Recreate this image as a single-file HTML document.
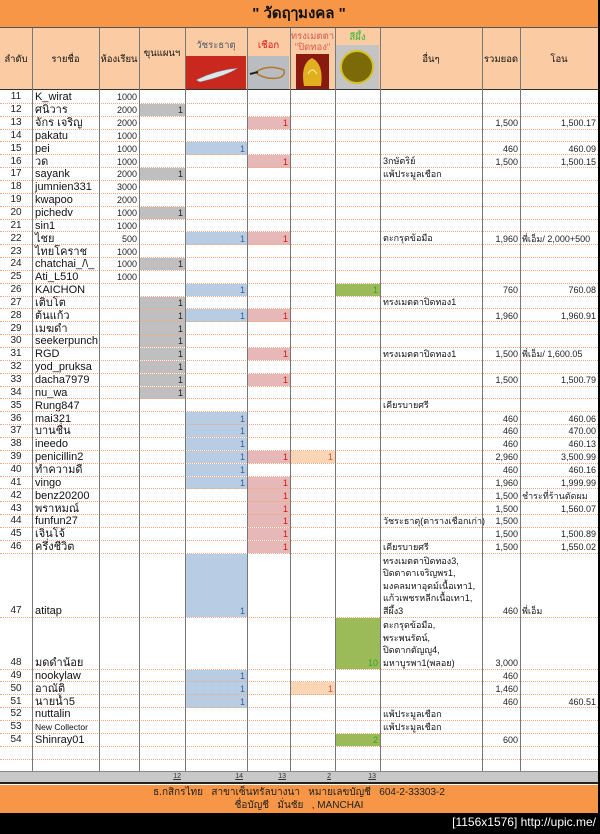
<!DOCTYPE html>
<html><head><meta charset="utf-8">
<style>
body{margin:0;width:600px;height:834px;overflow:hidden;background:#000;font-family:"Liberation Sans","DejaVu Sans",sans-serif;}
#sheet{position:absolute;left:0;top:0;width:598px;height:813px;background:#fff;}
.a{position:absolute;box-sizing:border-box;white-space:nowrap;overflow:visible;}
</style></head><body>
<div id="sheet">
<div class="a" style="left:0;top:0;width:598px;height:28px;background:#F79646;border-bottom:1px solid #555;text-align:center;font-size:15px;font-weight:bold;line-height:28px;color:#111;">" วัดฤๅมงคล "</div>
<div class="a" style="left:0;top:28px;width:598px;height:62px;background:#FBCBA4;border-bottom:1px solid #333;"></div>
<div class="a" style="left:0;top:785px;width:598px;height:28px;background:#F79646;text-align:center;font-size:10px;line-height:13px;color:#222;padding-top:1px;">ธ.กสิกรไทย &nbsp; สาขาเซ็นทรัลบางนา &nbsp; หมายเลขบัญชี &nbsp; 604-2-33303-2<br>ชื่อบัญชี &nbsp; มั่นชัย &nbsp; , MANCHAI</div>
</div>
<div class="a" style="right:4px;top:815px;color:#fff;font-size:12px;">[1156x1576] http://upic.me/</div>
<script>
const seq=[11,12,13,14,15,16,17,18,19,20,21,22,23,24,25,26,27,28,29,30,31,32,33,34,35,36,37,38,39,40,41,42,43,44,45,46,47,48,49,50,51,52,53,54];
const names=["K_wirat","ศนิวาร","จักร  เจริญ","pakatu","pei","วด","sayank","jumnien331","kwapoo","pichedv","sin1","ไชย","ไทยโคราช","chatchai_/\\_","Ati_L510","KAICHON","เติบโต","ต้นแก้ว","เมฆดำ","seekerpunch","RGD","yod_pruksa","dacha7979","nu_wa","Rung847","mai321","บานชื่น","ineedo","penicillin2","ทำความดี","vingo","benz20200","พราหมณ์","funfun27","เจินโจ้","ครึ่งชีวิต","atitap","มดดำน้อย","nookylaw","อาณัติ","นายน้ำ5","nuttalin","New Collector","Shinray01"];
const rooms=["1000","2000","2000","1000","1000","1000","2000","3000","2000","1000","1000","500","1000","1000","1000","","","","","","","","","","","","","","","","","","","","","","","","","","","","",""];
const khun=[0,1,0,0,0,0,1,0,0,1,0,0,0,1,0,0,1,1,1,1,1,1,1,1,0,0,0,0,0,0,0,0,0,0,0,0,0,0,0,0,0,0,0,0];
const wat=[0,0,0,0,1,0,0,0,0,0,0,1,0,0,0,1,0,1,0,0,0,0,0,0,0,1,1,1,1,1,1,0,0,0,0,0,1,0,1,1,1,0,0,0];
const chuak=[0,0,1,0,0,1,0,0,0,0,0,1,0,0,0,0,0,1,0,0,1,0,1,0,0,0,0,0,1,0,1,1,1,1,1,1,0,0,0,0,0,0,0,0];
const song=[0,0,0,0,0,0,0,0,0,0,0,0,0,0,0,0,0,0,0,0,0,0,0,0,0,0,0,0,1,0,0,0,0,0,0,0,0,0,0,1,0,0,0,0];
const sipung=[0,0,0,0,0,0,0,0,0,0,0,0,0,0,0,1,0,0,0,0,0,0,0,0,0,0,0,0,0,0,0,0,0,0,0,0,0,10,0,0,0,0,0,2];
const others=["","","","","","3กษัตริย์","แพ้ประมูลเชือก","","","","","ตะกรุดข้อมือ","","","","","ทรงเมตตาปิดทอง1","","","","ทรงเมตตาปิดทอง1","","","","เคียรบายศรี","","","","","","","","","วัชระธาตุ(ตารางเชือกเก่า)","","เคียรบายศรี","ทรงเมตตาปิดทอง3,<br>ปิดตาตาเจริญพร1,<br>มงคลมหาอุดม์เนื้อเทา1,<br>แก้วเพชรหลีกเนื้อเทา1,<br>สีผึ้ง3","ตะกรุดข้อมือ,<br>พระพนรัตน์,<br>ปิดตากตัญญู4,<br>มหาบูรพา1(พลอย)","","","","แพ้ประมูลเชือก","แพ้ประมูลเชือก",""];
const totals=["","","1,500","","460","1,500","","","","","","1,960","","","","760","","1,960","","","1,500","","1,500","","","460","460","460","2,960","460","1,960","1,500","1,500","1,500","1,500","1,500","460","3,000","460","1,460","460","","","600"];
const transfers=["","","1,500.17","","460.09","1,500.15","","","","","","พี่เอ็ม/ 2,000+500","","","","760.08","","1,960.91","","","พี่เอ็ม/ 1,600.05","","1,500.79","","","460.06","470.00","460.13","3,500.99","460.16","1,999.99","ชำระที่ร้านตัดผม","1,560.07","","1,500.89","1,550.02","พี่เอ็ม","","","","460.51","","",""];
const sums=["","","","12","14","13","2","13"];
const headers=["ลำดับ","รายชื่อ","ห้องเรียน","ขุนแผนฯ","วัชระธาตุ","เชือก","ทรงเมตตา<br>\"ปิดทอง\"","สีผึ้ง","อื่นๆ","รวมยอด","โอน"];
const colX=[0,32,99,139,185,247,290,335,380,482,520,598];
const sheet=document.getElementById('sheet');
function box(name,l,t,w,h,css,html){const d=document.createElement('div');d.className='a';d.style.cssText=`left:${l}px;top:${t}px;width:${w}px;height:${h}px;`+css;if(html!==undefined)d.innerHTML=html;


sheet.appendChild(d);return d;}
const tops=[],hts=[];let y=90.5;
seq.forEach(n=>{const h=n===47?64:(n===48?52:12.85);tops.push(y);hts.push(h);y+=h;});
tops.push(y);hts.push(12.85);y+=12.85;tops.push(y);hts.push(12.85);y+=12.85;
const gridBottom=771;
const hcol=['#111','#111','#111','#111','#4a5868','#e01010','#d85a50','#2db82d','#111','#111','#111'];
const htop=[28,28,28,28,38,38,30,30,28,28,28];
const hh=[62,62,62,62,14,14,24,14,62,62,62];
headers.forEach((h,i)=>{const w=colX[i+1]-colX[i];
box('header-'+i,colX[i],htop[i],w,hh[i],`display:flex;align-items:center;justify-content:center;text-align:center;font-size:9.5px;line-height:11px;color:${hcol[i]};white-space:nowrap;`+(i===3?'padding-bottom:12px;':''),h);});
box('vajra-image',186,56,60,33,'background:#c8281e;','<svg width="60" height="33"><path d="M10 24 Q30 14 52 12 Q40 20 14 26Z" fill="#dfe3ea" stroke="#777" stroke-width=".5"/></svg>');
box('cord-image',248,56,41,33,'background:#b9bcc0;','<svg width="41" height="33"><path d="M8 16 Q20 8 36 14 Q38 24 20 22 Q10 20 8 16" fill="none" stroke="#b07a2a" stroke-width="1.5"/><path d="M2 18 L10 16" stroke="#222" stroke-width="2"/></svg>');
box('amulet-image',296,54,33,35,'background:#8a1a10;','<svg width="33" height="35"><path d="M8 32 Q4 10 16 4 Q28 10 25 32Z" fill="#e0b020"/><path d="M12 20 Q16 12 21 20" stroke="#fff0a0" fill="none"/></svg>');
box('beeswax-image',335,45,44,44,'background:#c4c4c4;','<svg width="44" height="44"><circle cx="22" cy="22" r="16" fill="#7a6a08" stroke="#d8c020" stroke-width="2"/></svg>');
const fills=[null,null,null,'#BFBFBF','#B8CCE4','#E6B8B7','#FCD5B4','#9BBB59'];
const ncol=[null,null,null,'#222','#3a5e96','#e01010','#d05040','#3aa02a'];
const series=[null,null,null,khun,wat,chuak,song,sipung];
seq.forEach((n,r)=>{const t=tops[r],h=hts[r];const al=`display:flex;align-items:flex-end;`;
box('row-'+n+'-no',colX[0],t,32,h,al+'justify-content:center;font-size:10px;line-height:12px;color:#222;',String(n));
box('row-'+n+'-name',colX[1]+3,t,64,h,al+`font-size:${n===53?8.5:11}px;line-height:12px;color:#111;`,names[r]);
if(rooms[r])box('row-'+n+'-room',colX[2],t,38,h,al+'justify-content:flex-end;font-size:9px;line-height:12px;color:#222;',rooms[r]);
for(let c=3;c<=7;c++){const v=series[c][r];if(v){box('row-'+n+'-col'+c,colX[c]+1,t+0.5,colX[c+1]-colX[c]-1,h-0.5,al+`justify-content:flex-end;padding-right:2px;background:${fills[c]};font-size:9px;line-height:12px;color:${ncol[c]};`,String(v));}}
if(others[r])box('row-'+n+'-other',colX[8]+3,t,100,h,al+'white-space:nowrap;font-size:9px;line-height:12.5px;color:#111;',others[r]);
if(totals[r])box('row-'+n+'-total',colX[9],t,36,h,al+'justify-content:flex-end;font-size:9px;line-height:12px;color:#222;',totals[r]);
if(transfers[r]){const right=/[0-9]$/.test(transfers[r])&&!transfers[r].includes('/');box('row-'+n+'-transfer',colX[10]+2,t,74,h,al+(right?'justify-content:flex-end;':'')+'font-size:9px;line-height:12px;color:#222;',transfers[r]);}
});
for(let i=0;i<tops.length;i++){box('row-line',0,tops[i]+hts[i]-0.5,598,1,'border-top:1px dotted #F2A878;');}
colX.slice(1,11).forEach((x,i)=>{box('col-line-'+i,x,28,1,gridBottom-28,'background:#777;');});
box('summary-row',0,771,598,11,'background:#C8C8C8;border-top:1px solid #888;');
sums.forEach((s,i)=>{if(s)box('sum-'+i,colX[i],771,colX[i+1]-colX[i]-4,11,'display:flex;justify-content:flex-end;font-size:7px;line-height:11px;text-decoration:underline;color:#333;',s);});
box('summary-divider',0,782,598,2,'background:#222;');
</script>
</body></html>
